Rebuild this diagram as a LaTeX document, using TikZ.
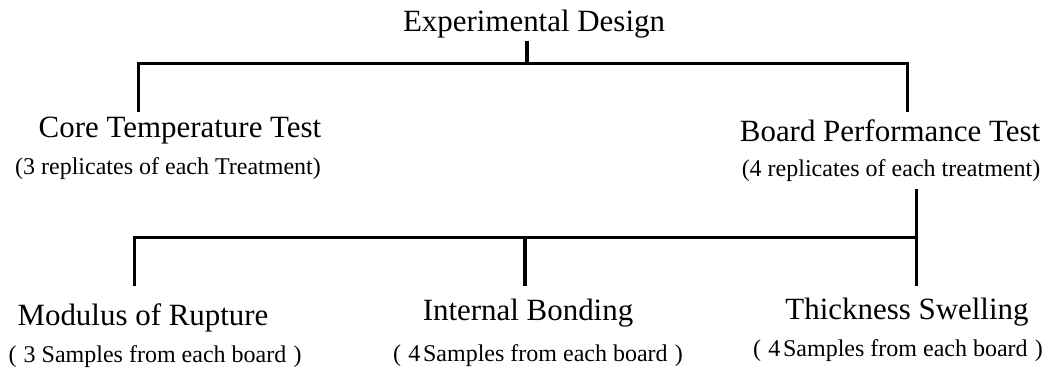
\documentclass[tikz,border=0pt]{standalone}
\usepackage{fontspec}
\setmainfont{Liberation Serif}
% bracket pair with the loose spacing used in the sample notes
\newcommand{\lpar}{(\hspace{0.3em}}
\newcommand{\rpar}{\hspace{0.3em})}
\begin{document}
\begin{tikzpicture}[x=0.75pt,y=-0.75pt,
  title/.style={inner sep=0pt,anchor=base,font=\fontsize{23.2pt}{26pt}\selectfont},
  note/.style={inner sep=0pt,anchor=base,font=\fontsize{18pt}{21pt}\selectfont},
  tree/.style={draw=black,line width=2.7pt,line join=miter}]
\useasboundingbox (0,0) rectangle (1047,368);

% root
\node[title] (root) at (534,31) {Experimental Design};

% first level
\node[title] (core)  at (180,137) {Core Temperature Test};
\node[note]  (coreN) at (168,174) {(3 replicates of each Treatment)};
\node[title] (board) at (890,141.5) {Board Performance Test};
\node[note]  (boardN) at (891,176) {(4 replicates of each treatment)};

% second level
\node[title] (mor) at (143,325) {Modulus of Rupture};
\node[note]  (morN) at (155,362) {\lpar 3 Samples from each board\rpar};
\node[title] (ib)  at (528,320.5) {Internal Bonding};
\node[note]  (ibN) at (538,361.5) {\lpar 4\hspace{0.12em}Samples from each board\rpar};
\node[title] (ts)  at (907,319) {Thickness Swelling};
\node[note]  (tsN) at (898,356) {\lpar 4\hspace{0.12em}Samples from each board\rpar};

% junction points of the tree
\coordinate (rootStem) at (527,40.7);
\coordinate (rootJoin) at (527,63.5);
\coordinate (coreTop)  at (138.5,112);
\coordinate (boardTop) at (907.5,112);

\coordinate (boardStem) at (916.5,189);
\coordinate (boardJoin) at (916.5,237.5);
\coordinate (ibJoin)    at (525,237.5);
\coordinate (morTop)    at (134.5,286);
\coordinate (ibTop)     at (525,286);
\coordinate (tsTop)     at (916.5,286);

% upper bracket
\draw[tree] (rootStem) -- (rootJoin);
\draw[tree] (coreTop) |- (rootJoin) -| (boardTop);

% lower bracket
\draw[tree] (boardStem) -- (tsTop);
\draw[tree] (morTop) |- (boardJoin);
\draw[tree] (ibJoin) -- (ibTop);
\end{tikzpicture}
\end{document}
